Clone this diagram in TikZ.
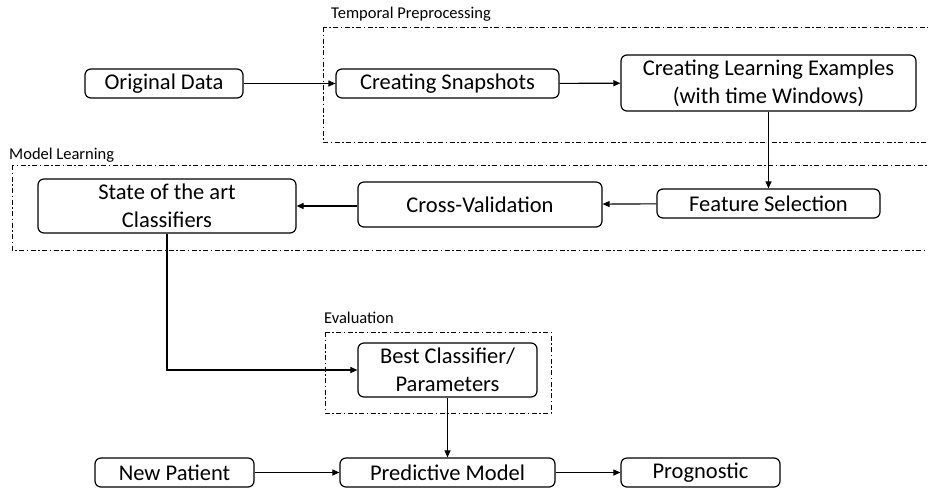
\documentclass[tikz,border=0pt]{standalone}
\usepackage{fontspec}
\setmainfont{Carlito}
\usetikzlibrary{arrows.meta}
\begin{document}
\begin{tikzpicture}[x=1pt,y=-1pt,
  box/.style={draw, line width=1.2pt, rounded corners=6pt, align=center,
    inner sep=0pt, font=\fontsize{22.5}{27.5}\selectfont},
  frame/.style={draw, line width=0.9pt, dash pattern=on 5pt off 2.5pt on 1.5pt off 2.5pt},
  flabel/.style={anchor=west, inner sep=0pt, font=\fontsize{16.5}{19}\selectfont},
  arr/.style={line width=1.1pt, -{Triangle[length=7pt,width=6pt]}}]
\useasboundingbox (0,0) rectangle (928,488);

% group frames
\draw[frame] (323,27) rectangle (940,142);
\draw[frame] (12,165) rectangle (940,250);
\draw[frame] (325,332) rectangle (551,413);
\node[flabel] (tlab) at (331,14) {Temporal Preprocessing};
\node[flabel] (mlab) at (9,155) {Model Learning};
\node[flabel] (elab) at (324,318) {Evaluation};

% process steps
\node[box, minimum width=158pt, minimum height=29pt] (orig) at (164,83.5) {Original Data};
\node[box, minimum width=223pt, minimum height=29pt] (snap) at (447.5,83.5) {Creating Snapshots};
\node[box, minimum width=295pt, minimum height=56pt] (learn) at (768.5,83) {Creating Learning Examples\\(with time Windows)};
\node[box, minimum width=258pt, minimum height=54pt] (cls) at (167,206) {State of the art\\Classifiers};
\node[box, minimum width=244pt, minimum height=45pt] (cv) at (480,204.5) {Cross-Validation};
\node[box, minimum width=223pt, minimum height=29pt] (fs) at (768.5,203.5) {Feature Selection};
\node[box, minimum width=179pt, minimum height=54pt] (best) at (447.5,370) {Best Classifier/\\Parameters};
\node[box, minimum width=159pt, minimum height=29pt] (newp) at (174.5,472.5) {New Patient};
\node[box, minimum width=215pt, minimum height=29pt] (pred) at (447.5,472.5) {Predictive Model};
\node[box, minimum width=159pt, minimum height=29pt] (prog) at (700.5,472.5) {Prognostic};

% connectors
\draw[arr] (orig) -- (snap);
\draw[arr] (snap) -- (learn);
\draw[arr] (learn) -- (fs);
\draw[arr] (fs) -- (cv);
\draw[arr] (cv.west |- cls) -- (cls);
\draw[arr] (cls.south) |- (best.west);
\draw[arr] (best) -- (pred);
\draw[arr] (newp) -- (pred);
\draw[arr] (pred) -- (prog);
\end{tikzpicture}
\end{document}
